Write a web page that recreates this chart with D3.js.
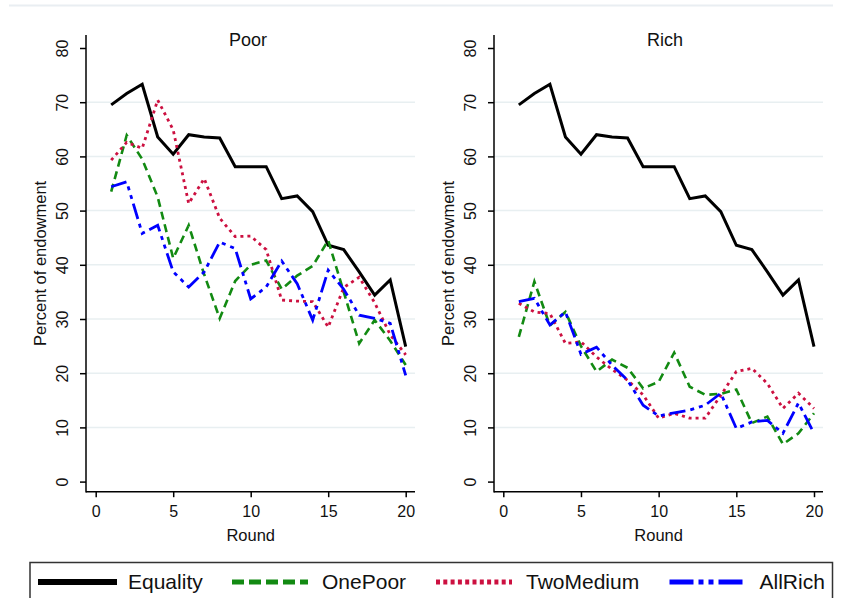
<!DOCTYPE html>
<head>
	<script src="https://d3js.org/d3.v7.min.js"></script>
	<style>
		body {
			margin: 0;
			background: #fff;
		}
		svg text {
			font-family: "Liberation Sans", Arial, sans-serif;
			fill: #111;
		}
		.tick text { font-size: 16px; }
		.title { font-size: 18px; }
		.axis-title { font-size: 16.5px; }
		.legend-text { font-size: 21px; }
		.grid { stroke: #e8eff1; stroke-width: 1.5; }
	</style>
</head>
<body>
	<script>
		// data
		var rounds = d3.range(1, 21);
		var yTicks = [0, 10, 20, 30, 40, 50, 60, 70, 80];
		var xTicks = [0, 5, 10, 15, 20];
		var seriesNames = ["Equality", "OnePoor", "TwoMedium", "AllRich"];
		var panelNames = ["Poor", "Rich"];

		var equality = [69.5, 71.6, 73.3, 63.6, 60.4, 64.0, 63.6, 63.4, 58.1, 58.1, 58.1, 52.2, 52.7, 49.8, 43.6, 42.8, 38.7, 34.4, 37.2, 24.9];

		var poorOnePoor = [53.5, 63.9, 59.5, 52.5, 41.2, 47.3, 38.2, 30.1, 37.0, 40.0, 40.8, 35.5, 38.0, 39.8, 44.5, 35.0, 25.5, 29.8, 26.0, 21.5];
		var poorTwoMedium = [59.3, 62.6, 61.5, 70.4, 64.9, 51.3, 55.9, 48.6, 45.2, 45.3, 42.8, 33.5, 33.3, 33.2, 28.5, 35.8, 37.7, 33.0, 27.1, 23.4];
		var poorAllRich = [54.4, 55.3, 45.8, 47.3, 38.7, 35.9, 38.7, 44.2, 43.0, 33.7, 35.9, 40.7, 36.5, 29.8, 39.0, 35.5, 30.7, 30.1, 29.2, 19.6];

		var richOnePoor = [26.7, 36.9, 28.8, 31.3, 25.0, 20.3, 22.5, 21.0, 17.2, 18.4, 23.8, 17.5, 16.0, 16.2, 17.0, 10.8, 12.0, 6.9, 8.9, 12.6];
		var richTwoMedium = [32.9, 31.3, 31.0, 25.5, 25.8, 23.0, 20.7, 18.7, 16.0, 11.7, 12.6, 11.7, 11.7, 15.9, 20.3, 20.9, 18.1, 13.5, 16.3, 13.5];
		var richAllRich = [33.2, 33.8, 28.9, 31.3, 23.5, 24.8, 21.5, 18.7, 14.1, 12.1, 12.7, 13.2, 14.1, 16.3, 9.8, 11.0, 11.3, 8.9, 14.5, 8.9];

		var panelData = [
			[equality, poorOnePoor, poorTwoMedium, poorAllRich],
			[equality, richOnePoor, richTwoMedium, richAllRich]
		];

		// styles
		var styles = [
			{ color: "#000", width: 3, dash: null, keyDash: null },
			{ color: "#128a12", width: 2.6, dash: "8,5", keyDash: "12,5" },
			{ color: "#cc1040", width: 2.8, dash: "3,4", keyDash: "4,3.3" },
			{ color: "#0000ff", width: 2.8, dash: "16,5,4,5,4,5", keyDash: "24,5,5,5,5,5" }
		];

		var width = 841;
		var height = 598;
		var plotTop = 35;
		var axisBottomY = 491.7;

		var panels = [
			{ axisX: 86, right: 415, x0: 95.7, x1: 405.7, titleX: 248 },
			{ axisX: 494, right: 823, x0: 503.3, x1: 814, titleX: 665 }
		];

		var yScale = d3.scaleLinear()
			.domain([0, 80])
			.range([481.6, 48]);

		var svg = d3.select("body")
			.append("svg")
			.attr("width", width)
			.attr("height", height);

		// faint top rule
		svg.append("line")
			.attr("x1", 9).attr("x2", 833)
			.attr("y1", 5.5).attr("y2", 5.5)
			.attr("stroke", "#e9eef2")
			.attr("stroke-width", 2);

		panels.forEach(function(p, pi) {
			var xScale = d3.scaleLinear()
				.domain([0, 20])
				.range([p.x0, p.x1]);

			var g = svg.append("g");

			// grid
			g.selectAll(".grid")
				.data(yTicks.filter(function(d) { return d > 0 && d < 80 }))
				.enter()
				.append("line")
				.attr("class", "grid")
				.attr("x1", p.axisX)
				.attr("x2", p.right)
				.attr("y1", function(d) { return yScale(d) })
				.attr("y2", function(d) { return yScale(d) });

			// lines
			var line = d3.line()
				.x(function(d, i) { return xScale(rounds[i]) })
				.y(function(d) { return yScale(d) });

			panelData[pi].forEach(function(values, si) {
				var s = styles[si];
				g.append("path")
					.datum(values)
					.attr("d", line)
					.attr("fill", "none")
					.attr("stroke", s.color)
					.attr("stroke-width", s.width)
					.attr("stroke-linejoin", "miter")
					.attr("stroke-dasharray", s.dash);
			});

			// axes
			var yAxis = d3.axisLeft(yScale)
				.tickValues(yTicks)
				.tickSize(6)
				.tickSizeOuter(0);
			var axisY = g.append("g")
				.attr("transform", "translate(" + [p.axisX, 0] + ")")
				.call(yAxis);
			axisY.select(".domain").remove();
			axisY.selectAll(".tick line").attr("stroke", "#000").attr("stroke-width", 1.5);
			axisY.selectAll(".tick text")
				.attr("x", null)
				.attr("dy", null)
				.attr("text-anchor", "middle")
				.attr("dominant-baseline", "central")
				.attr("transform", "translate(-24,0) rotate(-90)");

			var xAxis = d3.axisBottom(xScale)
				.tickValues(xTicks)
				.tickSize(5.5)
				.tickSizeOuter(0);
			var axisX = g.append("g")
				.attr("transform", "translate(" + [0, axisBottomY] + ")")
				.call(xAxis);
			axisX.select(".domain").remove();
			axisX.selectAll(".tick line").attr("stroke", "#000").attr("stroke-width", 1.5);
			axisX.selectAll(".tick text")
				.attr("y", 20)
				.attr("dy", "0.36em");

			// axis lines
			g.append("line")
				.attr("x1", p.axisX).attr("x2", p.axisX)
				.attr("y1", plotTop).attr("y2", axisBottomY + 0.75)
				.attr("stroke", "#000").attr("stroke-width", 1.5);
			g.append("line")
				.attr("x1", p.axisX).attr("x2", p.right)
				.attr("y1", axisBottomY).attr("y2", axisBottomY)
				.attr("stroke", "#000").attr("stroke-width", 1.5);

			// titles
			g.append("text")
				.text(panelNames[pi])
				.attr("x", p.titleX)
				.attr("y", 40)
				.attr("dy", "0.35em")
				.attr("text-anchor", "middle")
				.attr("class", "title");
			g.append("text")
				.text("Round")
				.attr("x", (p.x0 + p.x1) / 2)
				.attr("y", 535.7)
				.attr("dy", "0.35em")
				.attr("text-anchor", "middle")
				.attr("class", "axis-title");
			g.append("text")
				.text("Percent of endowment")
				.attr("transform", "translate(" + [p.axisX - 46, (plotTop + axisBottomY) / 2] + ") rotate(-90)")
				.attr("dominant-baseline", "central")
				.attr("text-anchor", "middle")
				.attr("class", "axis-title");
		});

		// legend
		var legend = svg.append("g");
		legend.append("rect")
			.attr("x", 30)
			.attr("y", 562.5)
			.attr("width", 802.5)
			.attr("height", 60)
			.attr("fill", "#fff")
			.attr("stroke", "#333")
			.attr("stroke-width", 1.5);

		var keyStarts = [38, 232, 436, 669.5];
		var keyLen = 76;
		seriesNames.forEach(function(name, i) {
			var s = styles[i];
			legend.append("line")
				.attr("x1", keyStarts[i])
				.attr("x2", keyStarts[i] + keyLen + (i == 0 ? 3 : 0))
				.attr("y1", 582)
				.attr("y2", 582)
				.attr("stroke", s.color)
				.attr("stroke-width", i == 0 ? 6 : 5)
				.attr("stroke-dasharray", s.keyDash);
			legend.append("text")
				.text(name)
				.attr("x", keyStarts[i] + 90)
				.attr("y", 588.5)
				.attr("class", "legend-text");
		});
	</script>
</body>
</html>
